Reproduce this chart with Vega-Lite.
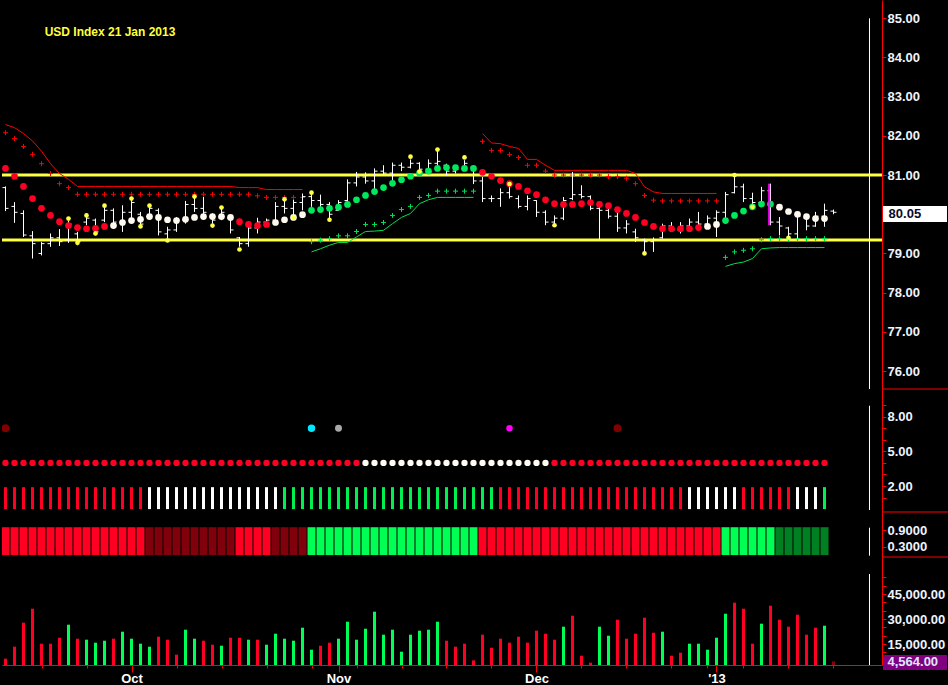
{
"$schema": "https://vega.github.io/schema/vega-lite/v6.json",
"background": "#000000",
"padding": 0,
"spacing": 0,
"bounds": "flush",
"config": {
 "view": {"stroke": null},
 "axis": {"domainColor": "#ff0000", "tickColor": "#ff0000", "labelColor": "#eef4ff", "labelFont": "Liberation Sans", "labelFontSize": 13, "labelFontWeight": "bold", "grid": false, "tickSize": 4, "labelPadding": 1, "labelFlush": false, "labelOverlap": false, "labelBound": false}
},
"datasets": {
 "bars": [
 {"i":0,"o":80.68,"h":80.71,"l":80.08,"c":80.15,"ma":81.17,"maTone":"r","vol":6180,"volTone":"r","dotTone":"r","barTone":"r","blockTone":"r"},
 {"i":1,"o":80.20,"h":80.31,"l":79.78,"c":80.05,"ma":80.97,"maTone":"r","vol":13380,"volTone":"r","dotTone":"r","barTone":"r","blockTone":"r"},
 {"i":2,"o":80.02,"h":80.10,"l":79.42,"c":79.47,"ma":80.71,"maTone":"r","vol":27780,"volTone":"r","dotTone":"r","barTone":"r","blockTone":"r"},
 {"i":3,"o":79.45,"h":79.57,"l":78.87,"c":79.25,"ma":80.40,"maTone":"r","vol":36180,"volTone":"r","dotTone":"r","barTone":"r","blockTone":"r"},
 {"i":4,"o":79.00,"h":79.29,"l":78.95,"c":79.25,"ma":80.15,"maTone":"r","vol":15180,"volTone":"r","dotTone":"r","barTone":"r","blockTone":"r"},
 {"i":5,"o":79.25,"h":79.51,"l":79.17,"c":79.40,"ma":79.97,"maTone":"r","vol":15180,"volTone":"r","dotTone":"r","barTone":"r","blockTone":"r"},
 {"i":6,"o":79.40,"h":79.62,"l":79.19,"c":79.30,"ma":79.81,"maTone":"r","vol":18780,"volTone":"r","dotTone":"r","barTone":"r","blockTone":"r"},
 {"i":7,"o":79.35,"h":79.83,"l":79.27,"c":79.75,"ma":79.71,"maTone":"r","vol":26580,"volTone":"g","dotTone":"r","barTone":"r","blockTone":"r"},
 {"i":8,"o":79.50,"h":79.55,"l":79.21,"c":79.30,"ma":79.66,"maTone":"r","vol":18180,"volTone":"w","dotTone":"r","barTone":"r","blockTone":"r"},
 {"i":9,"o":79.80,"h":79.95,"l":79.72,"c":79.90,"ma":79.63,"maTone":"r","vol":17580,"volTone":"g","dotTone":"r","barTone":"r","blockTone":"r"},
 {"i":10,"o":79.85,"h":79.89,"l":79.46,"c":79.55,"ma":79.64,"maTone":"r","vol":15780,"volTone":"g","dotTone":"r","barTone":"r","blockTone":"r"},
 {"i":11,"o":79.85,"h":80.19,"l":79.80,"c":80.10,"ma":79.69,"maTone":"r","vol":16980,"volTone":"g","dotTone":"r","barTone":"r","blockTone":"r"},
 {"i":12,"o":80.10,"h":80.15,"l":79.72,"c":79.80,"ma":79.71,"maTone":"w","vol":18180,"volTone":"w","dotTone":"r","barTone":"r","blockTone":"r"},
 {"i":13,"o":79.80,"h":80.23,"l":79.55,"c":80.05,"ma":79.79,"maTone":"w","vol":22380,"volTone":"g","dotTone":"r","barTone":"r","blockTone":"r"},
 {"i":14,"o":80.05,"h":80.40,"l":79.89,"c":80.30,"ma":79.84,"maTone":"w","vol":18180,"volTone":"g","dotTone":"r","barTone":"r","blockTone":"r"},
 {"i":15,"o":80.00,"h":80.06,"l":79.68,"c":79.75,"ma":79.87,"maTone":"w","vol":15180,"volTone":"g","dotTone":"r","barTone":"r","blockTone":"r"},
 {"i":16,"o":79.95,"h":80.19,"l":79.93,"c":80.15,"ma":79.94,"maTone":"w","vol":13380,"volTone":"g","dotTone":"r","barTone":"w","blockTone":"dr"},
 {"i":17,"o":80.10,"h":80.15,"l":79.46,"c":79.55,"ma":79.92,"maTone":"w","vol":19380,"volTone":"r","dotTone":"r","barTone":"w","blockTone":"dr"},
 {"i":18,"o":79.50,"h":79.68,"l":79.38,"c":79.60,"ma":79.86,"maTone":"w","vol":17580,"volTone":"r","dotTone":"r","barTone":"w","blockTone":"dr"},
 {"i":19,"o":79.60,"h":79.93,"l":79.55,"c":79.85,"ma":79.84,"maTone":"w","vol":8580,"volTone":"w","dotTone":"r","barTone":"w","blockTone":"dr"},
 {"i":20,"o":79.85,"h":80.34,"l":79.76,"c":80.25,"ma":79.87,"maTone":"w","vol":23580,"volTone":"g","dotTone":"r","barTone":"w","blockTone":"dr"},
 {"i":21,"o":80.25,"h":80.43,"l":80.06,"c":80.15,"ma":79.92,"maTone":"w","vol":18180,"volTone":"g","dotTone":"r","barTone":"w","blockTone":"dr"},
 {"i":22,"o":80.15,"h":80.44,"l":79.97,"c":80.05,"ma":79.94,"maTone":"w","vol":16980,"volTone":"w","dotTone":"r","barTone":"w","blockTone":"dr"},
 {"i":23,"o":79.95,"h":80.02,"l":79.76,"c":79.85,"ma":79.94,"maTone":"w","vol":14580,"volTone":"w","dotTone":"r","barTone":"w","blockTone":"dr"},
 {"i":24,"o":79.90,"h":80.15,"l":79.85,"c":80.05,"ma":79.94,"maTone":"w","vol":13980,"volTone":"g","dotTone":"r","barTone":"w","blockTone":"dr"},
 {"i":25,"o":79.90,"h":79.93,"l":79.51,"c":79.60,"ma":79.92,"maTone":"w","vol":18780,"volTone":"r","dotTone":"r","barTone":"w","blockTone":"dr"},
 {"i":26,"o":79.40,"h":79.42,"l":79.17,"c":79.25,"ma":79.81,"maTone":"r","vol":18780,"volTone":"r","dotTone":"r","barTone":"w","blockTone":"r"},
 {"i":27,"o":79.25,"h":79.72,"l":79.17,"c":79.65,"ma":79.74,"maTone":"r","vol":17580,"volTone":"g","dotTone":"r","barTone":"w","blockTone":"r"},
 {"i":28,"o":79.65,"h":79.91,"l":79.51,"c":79.80,"ma":79.71,"maTone":"r","vol":17580,"volTone":"w","dotTone":"r","barTone":"w","blockTone":"r"},
 {"i":29,"o":79.80,"h":79.89,"l":79.72,"c":79.85,"ma":79.74,"maTone":"r","vol":14580,"volTone":"g","dotTone":"r","barTone":"w","blockTone":"r"},
 {"i":30,"o":79.85,"h":80.31,"l":79.80,"c":80.20,"ma":79.79,"maTone":"w","vol":21180,"volTone":"g","dotTone":"r","barTone":"w","blockTone":"dr"},
 {"i":31,"o":80.20,"h":80.36,"l":80.02,"c":80.15,"ma":79.86,"maTone":"w","vol":18180,"volTone":"g","dotTone":"r","barTone":"g","blockTone":"dr"},
 {"i":32,"o":80.15,"h":80.37,"l":79.93,"c":80.30,"ma":79.92,"maTone":"w","vol":16980,"volTone":"g","dotTone":"r","barTone":"g","blockTone":"dr"},
 {"i":33,"o":80.30,"h":80.53,"l":80.10,"c":80.45,"ma":79.99,"maTone":"w","vol":24780,"volTone":"g","dotTone":"r","barTone":"g","blockTone":"dr"},
 {"i":34,"o":80.45,"h":80.57,"l":80.19,"c":80.35,"ma":80.10,"maTone":"g","vol":11580,"volTone":"g","dotTone":"r","barTone":"g","blockTone":"g"},
 {"i":35,"o":80.35,"h":80.50,"l":80.19,"c":80.25,"ma":80.12,"maTone":"g","vol":13980,"volTone":"w","dotTone":"r","barTone":"g","blockTone":"g"},
 {"i":36,"o":80.25,"h":80.31,"l":79.89,"c":80.00,"ma":80.15,"maTone":"g","vol":15780,"volTone":"w","dotTone":"r","barTone":"g","blockTone":"g"},
 {"i":37,"o":80.10,"h":80.36,"l":80.10,"c":80.30,"ma":80.18,"maTone":"g","vol":18180,"volTone":"g","dotTone":"r","barTone":"g","blockTone":"g"},
 {"i":38,"o":80.35,"h":80.89,"l":80.31,"c":80.80,"ma":80.25,"maTone":"g","vol":28380,"volTone":"g","dotTone":"r","barTone":"g","blockTone":"g"},
 {"i":39,"o":80.80,"h":81.08,"l":80.71,"c":80.95,"ma":80.37,"maTone":"g","vol":17580,"volTone":"g","dotTone":"r","barTone":"g","blockTone":"g"},
 {"i":40,"o":80.95,"h":81.07,"l":80.78,"c":80.85,"ma":80.48,"maTone":"g","vol":24180,"volTone":"g","dotTone":"w","barTone":"g","blockTone":"g"},
 {"i":41,"o":80.85,"h":81.17,"l":80.61,"c":81.10,"ma":80.58,"maTone":"g","vol":34380,"volTone":"g","dotTone":"w","barTone":"g","blockTone":"g"},
 {"i":42,"o":81.10,"h":81.25,"l":80.99,"c":81.05,"ma":80.68,"maTone":"g","vol":20580,"volTone":"g","dotTone":"w","barTone":"g","blockTone":"g"},
 {"i":43,"o":81.05,"h":81.32,"l":80.82,"c":81.25,"ma":80.79,"maTone":"g","vol":23580,"volTone":"g","dotTone":"w","barTone":"g","blockTone":"g"},
 {"i":44,"o":81.25,"h":81.32,"l":81.10,"c":81.20,"ma":80.88,"maTone":"g","vol":10380,"volTone":"g","dotTone":"w","barTone":"g","blockTone":"g"},
 {"i":45,"o":81.20,"h":81.40,"l":81.17,"c":81.30,"ma":80.97,"maTone":"g","vol":20580,"volTone":"g","dotTone":"w","barTone":"g","blockTone":"g"},
 {"i":46,"o":81.30,"h":81.33,"l":81.04,"c":81.15,"ma":81.05,"maTone":"g","vol":22980,"volTone":"g","dotTone":"w","barTone":"g","blockTone":"g"},
 {"i":47,"o":81.15,"h":81.40,"l":81.10,"c":81.30,"ma":81.10,"maTone":"g","vol":23580,"volTone":"g","dotTone":"w","barTone":"g","blockTone":"g"},
 {"i":48,"o":81.30,"h":81.65,"l":81.25,"c":81.35,"ma":81.17,"maTone":"g","vol":28380,"volTone":"g","dotTone":"w","barTone":"g","blockTone":"g"},
 {"i":49,"o":81.25,"h":81.29,"l":81.00,"c":81.10,"ma":81.19,"maTone":"g","vol":16980,"volTone":"r","dotTone":"w","barTone":"g","blockTone":"g"},
 {"i":50,"o":81.10,"h":81.21,"l":81.04,"c":81.15,"ma":81.19,"maTone":"g","vol":13380,"volTone":"r","dotTone":"w","barTone":"g","blockTone":"g"},
 {"i":51,"o":81.15,"h":81.38,"l":81.12,"c":81.30,"ma":81.17,"maTone":"g","vol":15180,"volTone":"w","dotTone":"w","barTone":"g","blockTone":"g"},
 {"i":52,"o":81.20,"h":81.25,"l":80.77,"c":80.85,"ma":81.17,"maTone":"g","vol":5180,"volTone":"w","dotTone":"w","barTone":"g","blockTone":"g"},
 {"i":53,"o":80.85,"h":80.95,"l":80.31,"c":80.40,"ma":81.07,"maTone":"r","vol":20580,"volTone":"r","dotTone":"w","barTone":"g","blockTone":"r"},
 {"i":54,"o":80.40,"h":80.48,"l":80.31,"c":80.40,"ma":80.97,"maTone":"r","vol":12780,"volTone":"r","dotTone":"w","barTone":"g","blockTone":"r"},
 {"i":55,"o":80.40,"h":80.66,"l":80.19,"c":80.55,"ma":80.86,"maTone":"r","vol":18180,"volTone":"r","dotTone":"w","barTone":"r","blockTone":"r"},
 {"i":56,"o":80.55,"h":80.82,"l":80.40,"c":80.45,"ma":80.78,"maTone":"r","vol":15780,"volTone":"r","dotTone":"w","barTone":"r","blockTone":"r"},
 {"i":57,"o":80.40,"h":80.48,"l":80.15,"c":80.20,"ma":80.71,"maTone":"r","vol":19380,"volTone":"r","dotTone":"w","barTone":"r","blockTone":"r"},
 {"i":58,"o":80.20,"h":80.48,"l":80.10,"c":80.40,"ma":80.60,"maTone":"r","vol":15780,"volTone":"r","dotTone":"w","barTone":"r","blockTone":"r"},
 {"i":59,"o":80.35,"h":80.36,"l":79.93,"c":80.05,"ma":80.50,"maTone":"r","vol":22980,"volTone":"r","dotTone":"w","barTone":"r","blockTone":"r"},
 {"i":60,"o":80.05,"h":80.10,"l":79.72,"c":79.80,"ma":80.37,"maTone":"r","vol":21180,"volTone":"r","dotTone":"w","barTone":"r","blockTone":"r"},
 {"i":61,"o":79.80,"h":79.97,"l":79.68,"c":79.90,"ma":80.27,"maTone":"r","vol":17580,"volTone":"r","dotTone":"r","barTone":"r","blockTone":"r"},
 {"i":62,"o":79.90,"h":80.44,"l":79.85,"c":80.35,"ma":80.25,"maTone":"r","vol":25380,"volTone":"g","dotTone":"r","barTone":"r","blockTone":"r"},
 {"i":63,"o":80.40,"h":81.08,"l":80.36,"c":80.50,"ma":80.25,"maTone":"r","vol":31980,"volTone":"r","dotTone":"r","barTone":"r","blockTone":"r"},
 {"i":64,"o":80.50,"h":80.74,"l":80.40,"c":80.45,"ma":80.27,"maTone":"r","vol":7980,"volTone":"r","dotTone":"r","barTone":"r","blockTone":"r"},
 {"i":65,"o":80.45,"h":80.48,"l":80.10,"c":80.15,"ma":80.30,"maTone":"r","vol":3780,"volTone":"w","dotTone":"r","barTone":"r","blockTone":"r"},
 {"i":66,"o":80.15,"h":80.19,"l":79.35,"c":80.10,"ma":80.25,"maTone":"r","vol":25380,"volTone":"g","dotTone":"r","barTone":"r","blockTone":"r"},
 {"i":67,"o":80.10,"h":80.27,"l":79.89,"c":79.95,"ma":80.22,"maTone":"r","vol":19980,"volTone":"g","dotTone":"r","barTone":"r","blockTone":"r"},
 {"i":68,"o":79.95,"h":80.10,"l":79.55,"c":79.65,"ma":80.12,"maTone":"r","vol":29580,"volTone":"r","dotTone":"r","barTone":"r","blockTone":"r"},
 {"i":69,"o":79.65,"h":79.85,"l":79.51,"c":79.75,"ma":80.02,"maTone":"r","vol":18180,"volTone":"r","dotTone":"r","barTone":"r","blockTone":"r"},
 {"i":70,"o":79.55,"h":79.63,"l":79.29,"c":79.40,"ma":79.92,"maTone":"r","vol":21180,"volTone":"r","dotTone":"r","barTone":"r","blockTone":"r"},
 {"i":71,"o":79.35,"h":79.38,"l":79.04,"c":79.30,"ma":79.79,"maTone":"r","vol":30780,"volTone":"r","dotTone":"r","barTone":"r","blockTone":"r"},
 {"i":72,"o":79.30,"h":79.41,"l":79.04,"c":79.35,"ma":79.69,"maTone":"r","vol":21780,"volTone":"w","dotTone":"r","barTone":"r","blockTone":"r"},
 {"i":73,"o":79.40,"h":79.76,"l":79.38,"c":79.70,"ma":79.63,"maTone":"r","vol":22380,"volTone":"g","dotTone":"r","barTone":"r","blockTone":"r"},
 {"i":74,"o":79.70,"h":79.80,"l":79.55,"c":79.60,"ma":79.63,"maTone":"r","vol":7980,"volTone":"w","dotTone":"r","barTone":"r","blockTone":"r"},
 {"i":75,"o":79.60,"h":79.80,"l":79.51,"c":79.70,"ma":79.63,"maTone":"r","vol":9780,"volTone":"w","dotTone":"r","barTone":"r","blockTone":"r"},
 {"i":76,"o":79.70,"h":79.89,"l":79.55,"c":79.80,"ma":79.63,"maTone":"r","vol":15180,"volTone":"g","dotTone":"r","barTone":"w","blockTone":"r"},
 {"i":77,"o":79.80,"h":80.06,"l":79.59,"c":79.75,"ma":79.66,"maTone":"r","vol":15180,"volTone":"g","dotTone":"r","barTone":"w","blockTone":"r"},
 {"i":78,"o":79.75,"h":79.97,"l":79.63,"c":79.90,"ma":79.69,"maTone":"w","vol":11580,"volTone":"g","dotTone":"r","barTone":"w","blockTone":"r"},
 {"i":79,"o":79.90,"h":80.10,"l":79.42,"c":80.05,"ma":79.74,"maTone":"w","vol":18780,"volTone":"g","dotTone":"r","barTone":"w","blockTone":"r"},
 {"i":80,"o":80.05,"h":80.57,"l":79.85,"c":80.50,"ma":79.84,"maTone":"g","vol":33180,"volTone":"g","dotTone":"r","barTone":"w","blockTone":"g"},
 {"i":81,"o":80.55,"h":81.00,"l":80.53,"c":80.70,"ma":79.97,"maTone":"g","vol":39780,"volTone":"r","dotTone":"r","barTone":"w","blockTone":"g"},
 {"i":82,"o":80.70,"h":80.78,"l":80.31,"c":80.40,"ma":80.08,"maTone":"g","vol":36180,"volTone":"r","dotTone":"r","barTone":"r","blockTone":"g"},
 {"i":83,"o":80.40,"h":80.55,"l":80.19,"c":80.30,"ma":80.19,"maTone":"g","vol":15180,"volTone":"w","dotTone":"r","barTone":"r","blockTone":"g"},
 {"i":84,"o":80.30,"h":80.70,"l":80.27,"c":80.60,"ma":80.26,"maTone":"g","vol":27180,"volTone":"g","dotTone":"r","barTone":"r","blockTone":"g"},
 {"i":85,"o":80.60,"h":80.78,"l":79.72,"c":79.80,"ma":80.26,"maTone":"g","vol":37980,"volTone":"r","dotTone":"r","barTone":"r","blockTone":"g"},
 {"i":86,"o":79.80,"h":79.93,"l":79.46,"c":79.70,"ma":80.18,"maTone":"w","vol":29580,"volTone":"r","dotTone":"r","barTone":"r","blockTone":"dg"},
 {"i":87,"o":79.65,"h":79.68,"l":79.38,"c":79.50,"ma":80.07,"maTone":"w","vol":25380,"volTone":"r","dotTone":"r","barTone":"r","blockTone":"dg"},
 {"i":88,"o":79.50,"h":80.02,"l":79.38,"c":79.95,"ma":80.00,"maTone":"w","vol":32580,"volTone":"w","dotTone":"r","barTone":"w","blockTone":"dg"},
 {"i":89,"o":79.90,"h":79.93,"l":79.59,"c":79.70,"ma":79.94,"maTone":"w","vol":20580,"volTone":"w","dotTone":"r","barTone":"w","blockTone":"dg"},
 {"i":90,"o":79.70,"h":80.06,"l":79.68,"c":79.95,"ma":79.89,"maTone":"w","vol":24780,"volTone":"r","dotTone":"r","barTone":"w","blockTone":"dg"},
 {"i":91,"o":79.95,"h":80.27,"l":79.68,"c":80.10,"ma":79.89,"maTone":"w","vol":25980,"volTone":"g","dotTone":"r","barTone":"g","blockTone":"dg"},
 {"i":92,"o":80.08,"h":80.12,"l":80.00,"c":80.05,"ma":null,"maTone":null,"vol":4564,"volTone":"p","dotTone":null,"barTone":null,"blockTone":null}
 ],
 "fractals": [
 {"i":7,"p":79.89},{"i":8,"p":79.27},{"i":9,"p":79.97},{"i":10,"p":79.51},{"i":11,"p":80.22},{"i":14,"p":80.40},{"i":15,"p":79.69},{"i":16,"p":80.22},{"i":18,"p":79.33},{"i":21,"p":80.45},{"i":23,"p":79.71},{"i":24,"p":80.17},{"i":26,"p":79.10},{"i":31,"p":80.38},{"i":32,"p":79.92},{"i":34,"p":80.55},{"i":36,"p":79.86},{"i":45,"p":81.47},{"i":46,"p":81.09},{"i":48,"p":81.65},{"i":51,"p":81.45},{"i":56,"p":80.77},{"i":61,"p":79.72},{"i":71,"p":79.00},{"i":81,"p":81.00},{"i":83,"p":80.19},{"i":87,"p":79.40}
 ],
 "stops": [
 {"i":0,"seg":"r1","side":"dn","line":82.29,"cross":82.08},
 {"i":1,"seg":"r1","side":"dn","line":82.21,"cross":81.93},
 {"i":2,"seg":"r1","side":"dn","line":82.06,"cross":81.73},
 {"i":3,"seg":"r1","side":"dn","line":81.87,"cross":81.53},
 {"i":4,"seg":"r1","side":"dn","line":81.61,"cross":81.29},
 {"i":5,"seg":"r1","side":"dn","line":81.29,"cross":81.04},
 {"i":6,"seg":"r1","side":"dn","line":81.04,"cross":80.78},
 {"i":7,"seg":"r1","side":"dn","line":80.89,"cross":80.68},
 {"i":8,"seg":"r1","side":"dn","line":80.71,"cross":80.51},
 {"i":9,"seg":"r1","side":"dn","line":80.71,"cross":80.51},
 {"i":10,"seg":"r1","side":"dn","line":80.71,"cross":80.51},
 {"i":11,"seg":"r1","side":"dn","line":80.71,"cross":80.51},
 {"i":12,"seg":"r1","side":"dn","line":80.71,"cross":80.51},
 {"i":13,"seg":"r1","side":"dn","line":80.71,"cross":80.51},
 {"i":14,"seg":"r1","side":"dn","line":80.71,"cross":80.51},
 {"i":15,"seg":"r1","side":"dn","line":80.71,"cross":80.51},
 {"i":16,"seg":"r1","side":"dn","line":80.71,"cross":80.51},
 {"i":17,"seg":"r1","side":"dn","line":80.71,"cross":80.51},
 {"i":18,"seg":"r1","side":"dn","line":80.71,"cross":80.51},
 {"i":19,"seg":"r1","side":"dn","line":80.71,"cross":80.51},
 {"i":20,"seg":"r1","side":"dn","line":80.71,"cross":80.51},
 {"i":21,"seg":"r1","side":"dn","line":80.71,"cross":80.51},
 {"i":22,"seg":"r1","side":"dn","line":80.71,"cross":80.51},
 {"i":23,"seg":"r1","side":"dn","line":80.71,"cross":80.51},
 {"i":24,"seg":"r1","side":"dn","line":80.71,"cross":80.51},
 {"i":25,"seg":"r1","side":"dn","line":80.71,"cross":80.51},
 {"i":26,"seg":"r1","side":"dn","line":80.68,"cross":80.51},
 {"i":27,"seg":"r1","side":"dn","line":80.68,"cross":80.51},
 {"i":28,"seg":"r1","side":"dn","line":80.68,"cross":80.47},
 {"i":29,"seg":"r1","side":"dn","line":80.63,"cross":80.43},
 {"i":30,"seg":"r1","side":"dn","line":80.63,"cross":80.43},
 {"i":31,"seg":"r1","side":"dn","line":80.63,"cross":80.43},
 {"i":32,"seg":"r1","side":"dn","line":80.63,"cross":80.43},
 {"i":33,"seg":"r1","side":"dn","line":80.63,"cross":80.43},
 {"i":34,"seg":"g1","side":"up","line":79.04,"cross":79.30},
 {"i":35,"seg":"g1","side":"up","line":79.12,"cross":79.34},
 {"i":36,"seg":"g1","side":"up","line":79.21,"cross":79.38},
 {"i":37,"seg":"g1","side":"up","line":79.28,"cross":79.45},
 {"i":38,"seg":"g1","side":"up","line":79.28,"cross":79.45},
 {"i":39,"seg":"g1","side":"up","line":79.42,"cross":79.56},
 {"i":40,"seg":"g1","side":"up","line":79.56,"cross":79.74},
 {"i":41,"seg":"g1","side":"up","line":79.57,"cross":79.74},
 {"i":42,"seg":"g1","side":"up","line":79.59,"cross":79.79},
 {"i":43,"seg":"g1","side":"up","line":79.76,"cross":79.97},
 {"i":44,"seg":"g1","side":"up","line":79.92,"cross":80.12},
 {"i":45,"seg":"g1","side":"up","line":80.02,"cross":80.20},
 {"i":46,"seg":"g1","side":"up","line":80.27,"cross":80.43},
 {"i":47,"seg":"g1","side":"up","line":80.37,"cross":80.48},
 {"i":48,"seg":"g1","side":"up","line":80.43,"cross":80.59},
 {"i":49,"seg":"g1","side":"up","line":80.43,"cross":80.59},
 {"i":50,"seg":"g1","side":"up","line":80.43,"cross":80.59},
 {"i":51,"seg":"g1","side":"up","line":80.43,"cross":80.59},
 {"i":52,"seg":"g1","side":"up","line":80.43,"cross":80.59},
 {"i":53,"seg":"r2","side":"dn","line":82.06,"cross":81.86},
 {"i":54,"seg":"r2","side":"dn","line":81.82,"cross":81.63},
 {"i":55,"seg":"r2","side":"dn","line":81.80,"cross":81.63},
 {"i":56,"seg":"r2","side":"dn","line":81.73,"cross":81.52},
 {"i":57,"seg":"r2","side":"dn","line":81.68,"cross":81.45},
 {"i":58,"seg":"r2","side":"dn","line":81.40,"cross":81.25},
 {"i":59,"seg":"r2","side":"dn","line":81.40,"cross":81.25},
 {"i":60,"seg":"r2","side":"dn","line":81.25,"cross":81.10},
 {"i":61,"seg":"r2","side":"dn","line":81.12,"cross":81.00},
 {"i":62,"seg":"r2","side":"dn","line":81.12,"cross":81.00},
 {"i":63,"seg":"r2","side":"dn","line":81.12,"cross":81.00},
 {"i":64,"seg":"r2","side":"dn","line":81.12,"cross":81.00},
 {"i":65,"seg":"r2","side":"dn","line":81.12,"cross":81.00},
 {"i":66,"seg":"r2","side":"dn","line":81.12,"cross":81.00},
 {"i":67,"seg":"r2","side":"dn","line":81.12,"cross":80.96},
 {"i":68,"seg":"r2","side":"dn","line":81.12,"cross":80.96},
 {"i":69,"seg":"r2","side":"dn","line":81.12,"cross":80.92},
 {"i":70,"seg":"r2","side":"dn","line":81.04,"cross":80.78},
 {"i":71,"seg":"r2","side":"dn","line":80.70,"cross":80.48},
 {"i":72,"seg":"r2","side":"dn","line":80.57,"cross":80.36},
 {"i":73,"seg":"r2","side":"dn","line":80.53,"cross":80.34},
 {"i":74,"seg":"r2","side":"dn","line":80.53,"cross":80.34},
 {"i":75,"seg":"r2","side":"dn","line":80.53,"cross":80.34},
 {"i":76,"seg":"r2","side":"dn","line":80.53,"cross":80.34},
 {"i":77,"seg":"r2","side":"dn","line":80.53,"cross":80.34},
 {"i":78,"seg":"r2","side":"dn","line":80.53,"cross":80.34},
 {"i":79,"seg":"r2","side":"dn","line":80.53,"cross":80.34},
 {"i":80,"seg":"g2","side":"up","line":78.67,"cross":78.90},
 {"i":81,"seg":"g2","side":"up","line":78.74,"cross":79.04},
 {"i":82,"seg":"g2","side":"up","line":78.78,"cross":79.08},
 {"i":83,"seg":"g2","side":"up","line":78.87,"cross":79.12},
 {"i":84,"seg":"g2","side":"up","line":79.12,"cross":79.35},
 {"i":85,"seg":"g2","side":"up","line":79.14,"cross":79.38},
 {"i":86,"seg":"g2","side":"up","line":79.15,"cross":79.38},
 {"i":87,"seg":"g2","side":"up","line":79.15,"cross":79.38},
 {"i":88,"seg":"g2","side":"up","line":79.15,"cross":79.38},
 {"i":89,"seg":"g2","side":"up","line":79.15,"cross":79.38},
 {"i":90,"seg":"g2","side":"up","line":79.15,"cross":79.38},
 {"i":91,"seg":"g2","side":"up","line":79.15,"cross":79.38}
 ],
 "signals": [
 {"i":0,"kind":"dr"},{"i":34,"kind":"cy"},{"i":37,"kind":"gy"},{"i":56,"kind":"mg"},{"i":68,"kind":"dr"}
 ],
 "levels": [{"lv":81.0},{"lv":79.34}]
},
"vconcat": [
 {
  "width": 880, "height": 389,
  "resolve": {"scale": {"fill": "independent", "stroke": "independent"}},
  "layer": [
   {"data": {"name": "levels"}, "mark": {"type": "rule", "stroke": "#ffff44", "strokeWidth": 3},
    "encoding": {"y": {"field": "lv", "type": "quantitative", "scale": {"domain": [75.541, 85.467], "nice": false, "zero": false},
      "axis": {"orient": "right", "values": [76,77,78,79,81,82,83,84,85], "format": ".2f", "title": null}}}},
   {"data": {"name": "stops"}, "mark": {"type": "line", "strokeWidth": 1},
    "encoding": {"x": {"field": "i", "type": "quantitative", "scale": {"domain": [-0.3889, 97.3889], "nice": false, "zero": false}, "axis": null},
     "y": {"field": "line", "type": "quantitative", "scale": {"domain": [75.541, 85.467], "nice": false, "zero": false}},
     "stroke": {"field": "side", "type": "nominal", "scale": {"domain": ["dn","up"], "range": ["#ff0000","#00e050"]}, "legend": null},
     "detail": {"field": "seg"}}},
   {"data": {"name": "stops"}, "mark": {"type": "point", "shape": "M-1,0H1M0,-1V1", "size": 25, "strokeWidth": 1, "filled": false, "opacity": 1},
    "encoding": {"x": {"field": "i", "type": "quantitative", "scale": {"domain": [-0.3889, 97.3889], "nice": false, "zero": false}, "axis": null},
     "y": {"field": "cross", "type": "quantitative", "scale": {"domain": [75.541, 85.467], "nice": false, "zero": false}},
     "stroke": {"field": "side", "type": "nominal", "scale": {"domain": ["dn","up"], "range": ["#ff0000","#00e050"]}, "legend": null}}},
   {"data": {"name": "bars"}, "mark": {"type": "rule", "stroke": "#ffffff", "strokeWidth": 1},
    "encoding": {"x": {"field": "i", "type": "quantitative", "scale": {"domain": [-0.3889, 97.3889], "nice": false, "zero": false}, "axis": null},
     "y": {"field": "l", "type": "quantitative", "scale": {"domain": [75.541, 85.467], "nice": false, "zero": false}},
     "y2": {"field": "h"}}},
   {"data": {"name": "bars"}, "mark": {"type": "rule", "stroke": "#ffffff", "strokeWidth": 1, "x2Offset": -3},
    "encoding": {"x": {"field": "i", "type": "quantitative", "scale": {"domain": [-0.3889, 97.3889], "nice": false, "zero": false}, "axis": null},
     "x2": {"field": "i"},
     "y": {"field": "o", "type": "quantitative", "scale": {"domain": [75.541, 85.467], "nice": false, "zero": false}}}},
   {"data": {"name": "bars"}, "mark": {"type": "rule", "stroke": "#ffffff", "strokeWidth": 1, "x2Offset": 3},
    "encoding": {"x": {"field": "i", "type": "quantitative", "scale": {"domain": [-0.3889, 97.3889], "nice": false, "zero": false}, "axis": null},
     "x2": {"field": "i"},
     "y": {"field": "c", "type": "quantitative", "scale": {"domain": [75.541, 85.467], "nice": false, "zero": false}}}},
   {"data": {"name": "bars"}, "mark": {"type": "circle", "size": 45, "opacity": 1, "clip": true},
    "encoding": {"x": {"field": "i", "type": "quantitative", "scale": {"domain": [-0.3889, 97.3889], "nice": false, "zero": false}, "axis": null},
     "y": {"field": "ma", "type": "quantitative", "scale": {"domain": [75.541, 85.467], "nice": false, "zero": false}},
     "fill": {"field": "maTone", "type": "nominal", "scale": {"domain": ["r","w","g"], "range": ["#ff0022","#fff8ee","#00e85c"]}, "legend": null}}},
   {"data": {"name": "fractals"}, "mark": {"type": "circle", "size": 22, "opacity": 1, "fill": "#ffff44"},
    "encoding": {"x": {"field": "i", "type": "quantitative", "scale": {"domain": [-0.3889, 97.3889], "nice": false, "zero": false}, "axis": null},
     "y": {"field": "p", "type": "quantitative", "scale": {"domain": [75.541, 85.467], "nice": false, "zero": false}}}},
   {"data": {"values": [{}]}, "mark": {"type": "rule", "stroke": "#ff00ff", "strokeWidth": 2},
    "encoding": {"x": {"datum": 84.85, "type": "quantitative", "scale": {"domain": [-0.3889, 97.3889], "nice": false, "zero": false}, "axis": null},
     "y": {"datum": 80.78, "type": "quantitative", "scale": {"domain": [75.541, 85.467], "nice": false, "zero": false}},
     "y2": {"datum": 79.72}}},
   {"data": {"values": [{}]}, "mark": {"type": "rule", "stroke": "#ffffff", "strokeWidth": 1},
    "encoding": {"x": {"datum": 96, "type": "quantitative", "scale": {"domain": [-0.3889, 97.3889], "nice": false, "zero": false}, "axis": null},
     "y": {"datum": 85.0, "type": "quantitative", "scale": {"domain": [75.541, 85.467], "nice": false, "zero": false}},
     "y2": {"datum": 75.541}}},
   {"data": {"values": [{}]}, "mark": {"type": "text", "align": "left", "baseline": "alphabetic", "font": "Liberation Sans", "fontSize": 12, "fontWeight": "bold", "fill": "#ffff3c"},
    "encoding": {"x": {"datum": 4.35, "type": "quantitative", "scale": {"domain": [-0.3889, 97.3889], "nice": false, "zero": false}, "axis": null},
     "y": {"datum": 84.548, "type": "quantitative", "scale": {"domain": [75.541, 85.467], "nice": false, "zero": false}},
     "text": {"value": "USD Index 21 Jan 2013"}}},
   {"data": {"values": [{}]}, "mark": {"type": "rect", "fill": "#ffffff"},
    "encoding": {"x": {"datum": 97.5, "type": "quantitative", "scale": {"domain": [-0.3889, 97.3889], "nice": false, "zero": false}, "axis": null},
     "x2": {"datum": 104.61},
     "y": {"datum": 80.211, "type": "quantitative", "scale": {"domain": [75.541, 85.467], "nice": false, "zero": false}},
     "y2": {"datum": 79.802}}},
   {"data": {"values": [{}]}, "mark": {"type": "text", "align": "left", "baseline": "middle", "font": "Liberation Sans", "fontSize": 13, "fontWeight": "bold", "fill": "#0a0a28"},
    "encoding": {"x": {"datum": 98.12, "type": "quantitative", "scale": {"domain": [-0.3889, 97.3889], "nice": false, "zero": false}, "axis": null},
     "y": {"datum": 80.0, "type": "quantitative", "scale": {"domain": [75.541, 85.467], "nice": false, "zero": false}},
     "text": {"value": "80.05"}}},
   {"data": {"values": [{}]}, "mark": {"type": "rule", "stroke": "#ff0000", "strokeWidth": 1},
    "encoding": {"x": {"datum": 97.39, "type": "quantitative", "scale": {"domain": [-0.3889, 97.3889], "nice": false, "zero": false}, "axis": null},
     "x2": {"datum": 105.4},
     "y": {"datum": 75.541, "type": "quantitative", "scale": {"domain": [75.541, 85.467], "nice": false, "zero": false}}}}
  ]
 },
 {
  "width": 880, "height": 123,
  "resolve": {"scale": {"fill": "independent", "stroke": "independent"}, "axis": {"y": "independent"}},
  "layer": [
   {"data": {"name": "bars"}, "transform": [{"filter": "isValid(datum.barTone)"}],
    "mark": {"type": "rule", "strokeWidth": 3},
    "encoding": {"x": {"field": "i", "type": "quantitative", "scale": {"domain": [-0.3889, 97.3889], "nice": false, "zero": false}, "axis": null},
     "y": {"datum": 0, "type": "quantitative", "scale": {"domain": [-0.251, 10.398], "nice": false, "zero": false},
       "axis": {"orient": "right", "values": [2,5,8], "format": ".2f", "title": null}},
     "y2": {"datum": 1.9},
     "stroke": {"field": "barTone", "type": "nominal", "scale": {"domain": ["r","w","g"], "range": ["#ff0022","#ffffff","#00f050"]}, "legend": null}}},
   {"data": {"name": "bars"}, "transform": [{"filter": "isValid(datum.dotTone)"}],
    "mark": {"type": "circle", "size": 40, "opacity": 1},
    "encoding": {"x": {"field": "i", "type": "quantitative", "scale": {"domain": [-0.3889, 97.3889], "nice": false, "zero": false}, "axis": null},
     "y": {"datum": 4, "type": "quantitative", "scale": {"domain": [-0.251, 10.398], "nice": false, "zero": false},
       "axis": {"orient": "right", "values": [1,3,4,6,7,9], "labels": false, "domain": false, "title": null}},
     "fill": {"field": "dotTone", "type": "nominal", "scale": {"domain": ["r","w"], "range": ["#ff0022","#fffbf0"]}, "legend": null}}},
   {"data": {"name": "signals"}, "mark": {"type": "circle", "opacity": 1, "clip": true},
    "encoding": {"x": {"field": "i", "type": "quantitative", "scale": {"domain": [-0.3889, 97.3889], "nice": false, "zero": false}, "axis": null},
     "y": {"datum": 7, "type": "quantitative", "scale": {"domain": [-0.251, 10.398], "nice": false, "zero": false}, "axis": null},
     "fill": {"field": "kind", "type": "nominal", "scale": {"domain": ["dr","cy","gy","mg"], "range": ["#800000","#00e8ff","#a8a8a8","#ff00ff"]}, "legend": null},
     "size": {"field": "kind", "type": "nominal", "scale": {"domain": ["dr","cy","gy","mg"], "range": [62,42,20,42]}, "legend": null}}},
   {"data": {"values": [{}]}, "mark": {"type": "rule", "stroke": "#ffffff", "strokeWidth": 1},
    "encoding": {"x": {"datum": 96, "type": "quantitative", "scale": {"domain": [-0.3889, 97.3889], "nice": false, "zero": false}, "axis": null},
     "y": {"datum": 8.95, "type": "quantitative", "scale": {"domain": [-0.251, 10.398], "nice": false, "zero": false}, "axis": null},
     "y2": {"datum": -0.08}}},
   {"data": {"values": [{}]}, "mark": {"type": "rule", "stroke": "#ff0000", "strokeWidth": 1},
    "encoding": {"x": {"datum": 97.39, "type": "quantitative", "scale": {"domain": [-0.3889, 97.3889], "nice": false, "zero": false}, "axis": null},
     "x2": {"datum": 105.4},
     "y": {"datum": -0.251, "type": "quantitative", "scale": {"domain": [-0.251, 10.398], "nice": false, "zero": false}, "axis": null}}}
  ]
 },
 {
  "width": 880, "height": 45,
  "layer": [
   {"data": {"name": "bars"}, "transform": [{"filter": "isValid(datum.blockTone)"}],
    "mark": {"type": "rule", "strokeWidth": 8, "clip": true},
    "encoding": {"x": {"field": "i", "type": "quantitative", "scale": {"domain": [-0.3889, 97.3889], "nice": false, "zero": false}, "axis": null},
     "y": {"datum": 0, "type": "quantitative", "scale": {"domain": [-0.07, 1.547], "nice": false, "zero": false},
       "axis": {"orient": "right", "values": [0.3, 0.9], "format": ".4f", "title": null}},
     "y2": {"datum": 1},
     "stroke": {"field": "blockTone", "type": "nominal", "scale": {"domain": ["r","dr","g","dg"], "range": ["#ff0022","#80000c","#00ff55","#008022"]}, "legend": null}}},
   {"data": {"values": [{}]}, "mark": {"type": "rule", "stroke": "#ffffff", "strokeWidth": 1},
    "encoding": {"x": {"datum": 96, "type": "quantitative", "scale": {"domain": [-0.3889, 97.3889], "nice": false, "zero": false}, "axis": null},
     "y": {"datum": 0.983, "type": "quantitative", "scale": {"domain": [-0.07, 1.547], "nice": false, "zero": false}},
     "y2": {"datum": -0.023}}},
   {"data": {"values": [{}]}, "mark": {"type": "rule", "stroke": "#ff0000", "strokeWidth": 1},
    "encoding": {"x": {"datum": 97.39, "type": "quantitative", "scale": {"domain": [-0.3889, 97.3889], "nice": false, "zero": false}, "axis": null},
     "x2": {"datum": 105.4},
     "y": {"datum": -0.07, "type": "quantitative", "scale": {"domain": [-0.07, 1.547], "nice": false, "zero": false}}}}
  ]
 },
 {
  "width": 880, "height": 108,
  "resolve": {"axis": {"y": "independent"}},
  "layer": [
   {"data": {"name": "bars"}, "mark": {"type": "rule", "strokeWidth": 3},
    "encoding": {"x": {"field": "i", "type": "quantitative", "scale": {"domain": [-0.3889, 97.3889], "nice": false, "zero": false},
       "axis": {"orient": "bottom", "title": null, "values": [4,9,14,19,24,29,34,37,39,44,49,54,59,64,69,74,78,79,82,87,92],
         "labelExpr": "datum.value==14?'Oct':datum.value==37?'Nov':datum.value==59?'Dec':datum.value==79?\"'13\":''",
         "tickSize": {"condition": {"test": "indexof([14,37,59,79], datum.value) >= 0", "value": 7}, "value": 3},
         "labelPadding": 0, "labelColor": "#ffffff", "labelFontSize": 13}},
     "y": {"field": "vol", "type": "quantitative", "scale": {"domain": [2400, 67200], "nice": false, "zero": false},
       "axis": {"orient": "right", "values": [15000,30000,45000], "format": ",.2f", "title": null}},
     "y2": {"datum": 2400},
     "stroke": {"field": "volTone", "type": "nominal", "scale": {"domain": ["r","g","w","p"], "range": ["#ff0022","#00f050","#ffffff","#800080"]}, "legend": null}}},
   {"data": {"values": [{}]}, "mark": {"type": "rule", "stroke": "#ffffff", "strokeWidth": 1},
    "encoding": {"x": {"datum": 96, "type": "quantitative", "scale": {"domain": [-0.3889, 97.3889], "nice": false, "zero": false}},
     "y": {"datum": 57000, "type": "quantitative", "scale": {"domain": [2400, 67200], "nice": false, "zero": false},
       "axis": {"orient": "right", "values": [10000,20000,25000,35000,40000,50000,55000], "labels": false, "domain": false, "title": null}},
     "y2": {"datum": 2400}}},
   {"data": {"values": [{}]}, "mark": {"type": "rect", "fill": "#800080"},
    "encoding": {"x": {"datum": 97.5, "type": "quantitative", "scale": {"domain": [-0.3889, 97.3889], "nice": false, "zero": false}},
     "x2": {"datum": 104.61},
     "y": {"datum": 8400, "type": "quantitative", "scale": {"domain": [2400, 67200], "nice": false, "zero": false}, "axis": null},
     "y2": {"datum": -600}}},
   {"data": {"values": [{}]}, "mark": {"type": "text", "align": "left", "baseline": "middle", "font": "Liberation Sans", "fontSize": 13, "fontWeight": "bold", "fill": "#dde8ff"},
    "encoding": {"x": {"datum": 98.0, "type": "quantitative", "scale": {"domain": [-0.3889, 97.3889], "nice": false, "zero": false}},
     "y": {"datum": 4000, "type": "quantitative", "scale": {"domain": [2400, 67200], "nice": false, "zero": false}, "axis": null},
     "text": {"value": "4,564.00"}}}
  ]
 }
]
}
